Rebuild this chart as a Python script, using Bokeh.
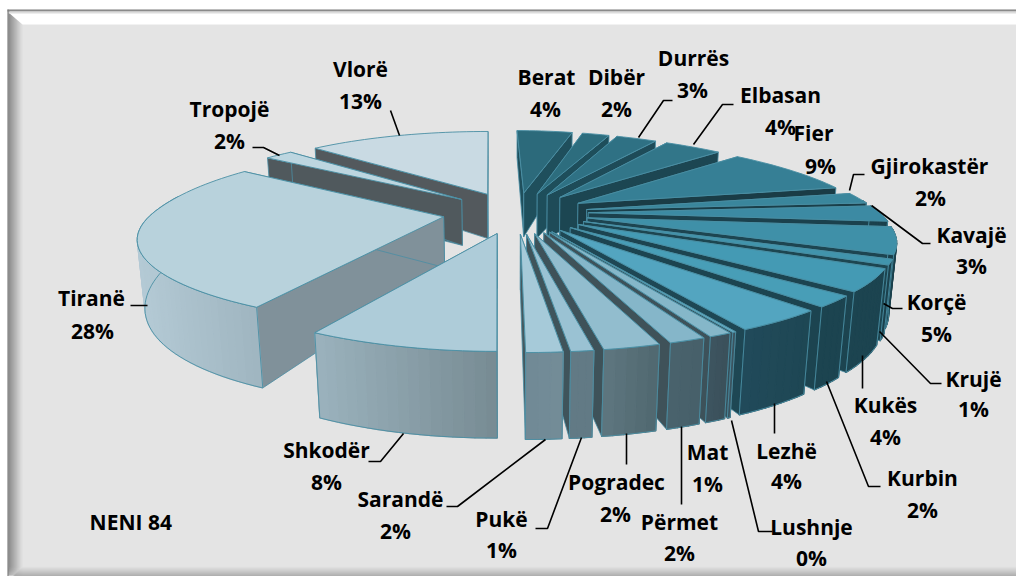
import math
from bokeh.plotting import figure
from bokeh.models import Range1d, ColumnDataSource
from bokeh.core.properties import value
from bokeh.embed import file_html
from bokeh.resources import INLINE

# ---- data ----
districts = ["Berat", "Dibër", "Durrës", "Elbasan", "Fier", "Gjirokastër", "Kavajë", "Korçë", "Krujë", "Kukës",
             "Kurbin", "Lezhë", "Lushnje", "Mat", "Përmet", "Pogradec", "Pukë", "Sarandë", "Shkodër", "Tiranë",
             "Tropojë", "Vlorë"]
percent = [4, 2, 3, 4, 9, 2, 3, 5, 1, 4, 2, 4, 0, 1, 2, 2, 1, 2, 8, 28, 2, 13]
# slice sizes behind the rounded labels, estimated from the wedges
shares = [4.45, 2.1, 3, 4, 8.6, 2, 3, 5, 1, 4, 2, 4, 0.15, 1, 1.6, 2.49, 1.0, 1.6, 8.3, 27.7, 2, 13]
chart_title = "NENI  84"

# ---- styles ----
top_col = ["#2c6a7b", "#2d6d7e", "#2f7184", "#327689", "#367f95", "#3a869c", "#3c8aa3", "#3f90a8", "#4194ac", "#449ab4",
           "#489eb7", "#53a5c0", "#6aafc5", "#85b7c9", "#85b6c9", "#92bdce", "#9ac2d3", "#a6cad9", "#aeccd9", "#b8d2dc",
           "#bdd6e0", "#c9dae3"]
side_col = ["#1f4f5c", "#1e4e5b", "#1e4b58", "#1c4652", "#1a3c46", "#1a3f4a", "#1b414d", "#1d4551", "#1d4651", "#1c4450",
            "#1c4450", "#1e4754", "#36505a", "#3d525a", "#3f5259", "#3e5259", "#3f545b", "#46595f", "#80919a", "#80919a",
            "#50595d", "#53595d"]
arc_left = ["#1f4f5c", "#1f4f5c", "#1f4f5c", "#1f4f5c", "#1a3c46", "#1a3f4a", "#1b414d", "#1b404c", "#1c424e", "#1c4450",
            "#1c4450", "#214a5a", "#3c5461", "#3e5560", "#4a626d", "#5e7680", "#627a85", "#708a96", "#9bb2bd", "#b4cad5",
            "#c0d4dd", "#c5d8e0"]
arc_right = ["#1f4f5c", "#1f4f5c", "#1f4f5c", "#1f4f5c", "#1a3c46", "#1a3f4a", "#1b414d", "#1b404c", "#1c424e", "#1c4450",
             "#1c4450", "#1e4754", "#3a525c", "#3a505a", "#46606a", "#50686f", "#627a85", "#748c97", "#778b93", "#9fb5c0",
             "#c0d4dd", "#c5d8e0"]
edge_col = "#4a8ea4"

# projection of the tilted pie onto the page
CX, VX, CY, AX, BY, KY, KX, EXPL = 515.0, 498.0, 212.0, 291.0, 82.8, 0.209, 0.25, 0.25
def proj(X, Y):
    wide = AX * X * (1 + 0.09 * Y * Y if (X < 0 and Y < 0) else 1)
    return VX + (CX - VX + wide) * (1 + KX * Y), CY + BY * Y / (1 - KY * Y)
def drop(x, y):
    h = 0.27 * (y - 30) + 8 * ((x - CX) / 300) ** 2
    return x + (CX - x) * h / 3400, y + h

def hexmix(a, b, t):
    ca = [int(a[i:i + 2], 16) for i in (1, 3, 5)]
    cb = [int(b[i:i + 2], 16) for i in (1, 3, 5)]
    return "#%02x%02x%02x" % tuple(round(u + (v - u) * t) for u, v in zip(ca, cb))

total = sum(shares)
starts, cum = [], 0.0
for s in shares:
    starts.append(cum / total * 2 * math.pi)
    cum += s

xs, ys, fc, fa, lc, lw = [], [], [], [], [], []
def add(px, py, fill, falpha=1.0, line=None, width=1.2):
    xs.append(list(px)); ys.append(list(py)); fc.append(fill); fa.append(falpha)
    lc.append(line if line else fill); lw.append(width)

def draw_slice(i):
    a0 = starts[i]
    a1 = a0 + shares[i] / total * 2 * math.pi
    mid = (a0 + a1) / 2
    dx, dy = EXPL * math.sin(mid), -EXPL * math.cos(mid)
    apex = proj(dx, dy)
    n = max(3, int((a1 - a0) / 0.03))
    angs = [a0 + (a1 - a0) * k / n for k in range(n + 1)]
    rim = [proj(dx + math.sin(a), dy - math.cos(a)) for a in angs]
    rim_low = [drop(*q) for q in rim]
    apex_low = drop(*apex)

    def radial():
        for q, ql in ((rim[0], rim_low[0]), (rim[-1], rim_low[-1])):
            px = [apex[0], q[0], ql[0], apex_low[0]]
            py = [apex[1], q[1], ql[1], apex_low[1]]
            add(px, py, side_col[i], 1.0, edge_col, 0.8)

    def arc():
        vis = [k for k in range(n) if 1.45 < angs[k] + 0.015 < 4.95]
        if not vis:
            return
        xmin = min(min(rim[k][0], rim[k + 1][0]) for k in vis)
        xmax = max(max(rim[k][0], rim[k + 1][0]) for k in vis)
        for k in vis:
            t = ((rim[k][0] + rim[k + 1][0]) / 2 - xmin) / max(1.0, xmax - xmin)
            c = hexmix(arc_left[i], arc_right[i], t)
            add([rim[k][0], rim[k + 1][0], rim_low[k + 1][0], rim_low[k][0]],
                [rim[k][1], rim[k + 1][1], rim_low[k + 1][1], rim_low[k][1]], c)
        pts = [rim[k] for k in vis] + [rim[vis[-1] + 1]]
        low = [rim_low[k] for k in vis] + [rim_low[vis[-1] + 1]]
        ring = pts + low[::-1]
        add([q[0] for q in ring], [q[1] for q in ring], "#000000", 0.0, edge_col, 0.9)

    if math.cos(mid) < 0:
        radial(); arc()
    else:
        arc(); radial()
    add([apex[0]] + [q[0] for q in rim], [apex[1]] + [q[1] for q in rim], top_col[i], 1.0, edge_col, 0.9)

order = sorted(range(len(shares)), key=lambda i: -math.cos(starts[i] + shares[i] / total * math.pi))
for i in order:
    draw_slice(i)

p = figure(width=1016, height=576, x_range=Range1d(0, 1016), y_range=Range1d(576, 0),
           output_backend="svg", toolbar_location=None, min_border=0, outline_line_color=None)
p.xaxis.visible = False
p.yaxis.visible = False
p.grid.visible = False
p.background_fill_color = "#ffffff"
p.border_fill_color = "#ffffff"

# bevelled panel
L, T, R, B = 7.0, 9.0, 1016.0, 576.0
p.quad(left=[L], right=[R], top=[T], bottom=[B], fill_color="#e4e4e4", line_color=None)
for k in range(14):
    t = k / 13
    c = hexmix("#7f7f7f", "#dedede", t)
    d0, d1 = 1 + k, 2 + k
    p.patch([L + d0, L + d1, L + d1, L + d0], [T + 1 + k, T + 2 + k, B - 10, B - 1], fill_color=c, line_color=c, line_width=0.3)
p.patch([L + 1, R, R, L + 15], [T + 3, T + 3, T + 15, T + 15], fill_color="#ffffff", line_color=None)
p.quad(left=[L], right=[R], top=[T], bottom=[T + 2], fill_color="#8a8a8a", line_color=None)
p.quad(left=[L + 1], right=[R], top=[T + 2], bottom=[T + 4], fill_color="#dcdcdc", line_color=None)
for k in range(10):
    c = hexmix("#e2e2e2", "#9c9c9c", k / 9)
    p.quad(left=[L + 15 - k], right=[R], top=[B - 10 + k], bottom=[B - 9 + k], fill_color=c, line_color=None)
p.quad(left=[L], right=[L + 1], top=[T], bottom=[B], fill_color="#777777", line_color=None)

p.patches("xs", "ys", source=ColumnDataSource(dict(xs=xs, ys=ys, fc=fc, fa=fa, lc=lc, lw=lw)),
          fill_color="fc", fill_alpha="fa", line_color="lc", line_width="lw", line_join="round")

# label layout: name centre, percent centre, leader polyline
layout = {
    "Berat": ((546, 76), (545, 108), None),
    "Dibër": ((616, 76), (616, 108), None),
    "Durrës": ((693, 57), (692, 89), [(638, 137), (663, 100), (672, 100)]),
    "Elbasan": ((780, 94), (780, 126), [(693, 144), (722, 104), (733, 104)]),
    "Fier": ((813, 132), (820, 165), None),
    "Gjirokastër": ((929, 165), (930, 197), [(849, 190), (853, 174), (864, 174)]),
    "Kavajë": ((971, 234), (971, 265), [(871, 205), (922, 243), (930, 243)]),
    "Korçë": ((936, 301), (936, 333), [(883, 303), (892, 308), (902, 308)]),
    "Krujë": ((973, 378), (973, 408), [(879, 331), (930, 383), (941, 383)]),
    "Kukës": ((885, 404), (885, 436), [(862, 355), (862, 388)]),
    "Kurbin": ((922, 477), (922, 509), [(826, 381), (868, 486), (880, 486)]),
    "Lezhë": ((786, 450), (786, 480), [(774, 403), (774, 433)]),
    "Lushnje": ((811, 526), (811, 557), [(731, 420), (758, 531), (772, 531)]),
    "Mat": ((707, 451), (707, 483), None),
    "Përmet": ((679, 521), (679, 552), [(681, 426), (681, 504)]),
    "Pogradec": ((616, 481), (615, 513), [(626, 433), (626, 464)]),
    "Pukë": ((501, 518), (501, 549), [(581, 437), (547, 528), (535, 528)]),
    "Sarandë": ((400, 498), (395, 530), [(545, 439), (457, 506), (446, 506)]),
    "Shkodër": ((326, 449), (326, 481), [(403, 433), (380, 461), (368, 461)]),
    "Tiranë": ((91, 297), (92, 330), [(147, 305), (130, 305)]),
    "Tropojë": ((229, 108), (229, 140), [(279, 155), (263, 147), (252, 147)]),
    "Vlorë": ((360, 68), (360, 100), [(399, 135), (390, 110)]),
}
lx, ly = [], []
tx, ty, tt = [], [], []
for name, pc in zip(districts, percent):
    a, b, lead = layout[name]
    tx += [a[0], b[0]]; ty += [a[1], b[1]]; tt += [name, f"{pc}%"]
    if lead:
        lx.append([q[0] for q in lead]); ly.append([q[1] for q in lead])
p.multi_line(lx, ly, line_color="#000000", line_width=1.6)
p.text(tx, ty, text=tt, text_font=value("Open Sans"), text_font_style="bold", text_font_size="21px",
       text_color="#000000", text_align="center", text_baseline="middle")
p.text([133], [521], text=[chart_title], text_font=value("Open Sans"), text_font_style="bold", text_font_size="21px",
       text_color="#000000", text_align="center", text_baseline="middle")

open("out.html", "w").write(file_html(p, INLINE))
